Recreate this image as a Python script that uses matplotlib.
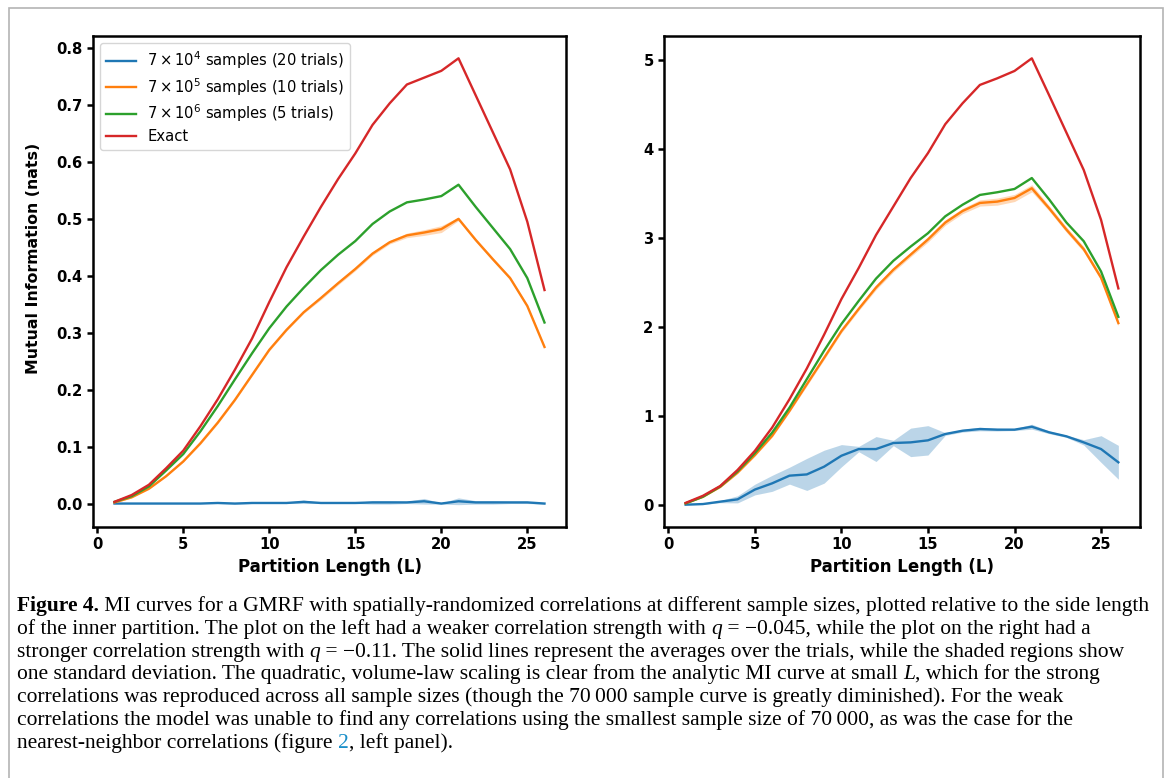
# MI curves, GMRF with spatially-randomized correlations (figure 4 with caption)

import matplotlib
matplotlib.use('Agg')
import matplotlib.pyplot as plt
import numpy as np

# partition lengths
L = np.arange(1, 27)

# left panel: weak correlations (q = -0.045)
exact_l = [0.003, 0.015, 0.033, 0.062, 0.093, 0.136, 0.183, 0.235, 0.290, 0.354, 0.415, 0.469, 0.521,
           0.570, 0.615, 0.665, 0.703, 0.736, 0.748, 0.760, 0.782, 0.717, 0.652, 0.587, 0.495, 0.375]
s7e6_l = [0.003, 0.013, 0.030, 0.058, 0.087, 0.127, 0.171, 0.218, 0.264, 0.308, 0.346, 0.379, 0.410,
          0.437, 0.461, 0.491, 0.513, 0.529, 0.534, 0.540, 0.560, 0.521, 0.484, 0.447, 0.396, 0.318]
s7e5_l = [0.002, 0.011, 0.026, 0.048, 0.074, 0.106, 0.142, 0.182, 0.226, 0.270, 0.305, 0.336, 0.361,
          0.387, 0.412, 0.439, 0.459, 0.471, 0.476, 0.482, 0.500, 0.463, 0.429, 0.396, 0.347, 0.275]
s7e5_l_std = [0.001, 0.001, 0.001, 0.001, 0.001, 0.002, 0.002, 0.002, 0.002, 0.002, 0.002, 0.002, 0.003,
              0.003, 0.003, 0.003, 0.003, 0.004, 0.005, 0.006, 0.003, 0.003, 0.003, 0.003, 0.003, 0.002]
s7e4_l = [0.000, 0.000, 0.000, 0.000, 0.000, 0.000, 0.001, 0.000, 0.001, 0.001, 0.001, 0.003, 0.001,
          0.001, 0.001, 0.002, 0.002, 0.002, 0.004, 0.000, 0.004, 0.002, 0.002, 0.002, 0.002, 0.000]
s7e4_l_std = [0.000, 0.000, 0.000, 0.000, 0.000, 0.000, 0.001, 0.001, 0.001, 0.001, 0.001, 0.003, 0.001,
              0.001, 0.001, 0.003, 0.003, 0.002, 0.005, 0.001, 0.006, 0.003, 0.003, 0.002, 0.002, 0.001]

# right panel: strong correlations (q = -0.11)
exact_r = [0.02, 0.10, 0.21, 0.39, 0.605, 0.867, 1.185, 1.53, 1.91, 2.31, 2.66, 3.03, 3.35,
           3.67, 3.95, 4.275, 4.51, 4.716, 4.79, 4.873, 5.015, 4.60, 4.18, 3.76, 3.20, 2.43]
s7e6_r = [0.015, 0.09, 0.205, 0.375, 0.58, 0.81, 1.09, 1.41, 1.73, 2.03, 2.29, 2.54, 2.74,
          2.90, 3.05, 3.24, 3.37, 3.48, 3.51, 3.547, 3.67, 3.43, 3.17, 2.96, 2.62, 2.11]
s7e5_r = [0.015, 0.088, 0.20, 0.36, 0.557, 0.774, 1.054, 1.353, 1.65, 1.95, 2.20, 2.44, 2.64,
          2.81, 2.98, 3.17, 3.30, 3.39, 3.405, 3.446, 3.555, 3.33, 3.09, 2.87, 2.55, 2.04]
s7e5_r_std = [0.002, 0.005, 0.008, 0.01, 0.012, 0.015, 0.015, 0.02, 0.02, 0.02, 0.02, 0.025, 0.025,
              0.025, 0.03, 0.03, 0.03, 0.035, 0.04, 0.04, 0.04, 0.03, 0.03, 0.03, 0.03, 0.03]
s7e4_r = [0.0, 0.007, 0.034, 0.06, 0.17, 0.24, 0.326, 0.34, 0.427, 0.55, 0.625, 0.625, 0.693,
          0.70, 0.723, 0.794, 0.831, 0.85, 0.843, 0.843, 0.876, 0.813, 0.768, 0.70, 0.625, 0.476]
s7e4_r_std = [0.0, 0.005, 0.012, 0.04, 0.06, 0.09, 0.095, 0.18, 0.185, 0.125, 0.03, 0.14, 0.03,
              0.16, 0.165, 0.015, 0.015, 0.02, 0.015, 0.01, 0.028, 0.015, 0.012, 0.03, 0.15, 0.19]

labels = [r'$7 \times 10^4$ samples (20 trials)', r'$7 \times 10^5$ samples (10 trials)',
          r'$7 \times 10^6$ samples (5 trials)', 'Exact']

# caption, one list of (text, style) pieces per printed line
caption = [
    [('Figure 4.', 'bold'), (' MI curves for a GMRF with spatially-randomized correlations at different sample sizes, '
                             'plotted relative to the side length', '')],
    [('of the inner partition. The plot on the left had a weaker correlation strength with ', ''), ('q', 'italic'),
     (' = \u22120.045, while the plot on the right had a', '')],
    [('stronger correlation strength with ', ''), ('q', 'italic'),
     (' = \u22120.11. The solid lines represent the averages over the trials, while the shaded regions show', '')],
    [('one standard deviation. The quadratic, volume-law scaling is clear from the analytic MI curve at small ', ''),
     ('L', 'italic'), (', which for the strong', '')],
    [('correlations was reproduced across all sample sizes (though the 70\u2009000 sample curve is greatly '
      'diminished). For the weak', '')],
    [('correlations the model was unable to find any correlations using the smallest sample size of 70\u2009000, '
      'as was the case for the', '')],
    [('nearest-neighbor correlations (figure ', ''), ('2', 'link'), (', left panel).', '')],
]

W, H = 1166, 778
fig = plt.figure(figsize=(W / 100, H / 100), dpi=100)

def px(x0, y0, x1, y1):
    # pixel box -> figure fraction rect
    return [x0 / W, 1 - y1 / H, (x1 - x0) / W, (y1 - y0) / H]

ax1 = fig.add_axes(px(93, 36, 566, 527))
ax2 = fig.add_axes(px(664, 36, 1140, 527))

def panel(ax, s4, s4std, s5, s5std, s6, ex):
    s4, s4std = np.array(s4), np.array(s4std)
    s5, s5std = np.array(s5), np.array(s5std)
    ax.plot(L, s4, color='tab:blue', lw=1.7, label=labels[0])
    ax.fill_between(L, s4 - s4std, s4 + s4std, color='tab:blue', alpha=0.3, lw=0)
    ax.plot(L, s5, color='tab:orange', lw=1.7, label=labels[1])
    ax.fill_between(L, s5 - s5std, s5 + s5std, color='tab:orange', alpha=0.3, lw=0)
    ax.plot(L, s6, color='tab:green', lw=1.7, label=labels[2])
    ax.plot(L, ex, color='tab:red', lw=1.7, label=labels[3])
    for sp in ax.spines.values():
        sp.set_linewidth(1.8)
    ax.tick_params(width=1.8, length=4, labelsize=10.6)
    ax.set_xlabel('Partition Length (L)', fontsize=12, fontweight='bold')
    ax.set_xticks([0, 5, 10, 15, 20, 25])

panel(ax1, s7e4_l, s7e4_l_std, s7e5_l, s7e5_l_std, s7e6_l, exact_l)
panel(ax2, s7e4_r, s7e4_r_std, s7e5_r, s7e5_r_std, s7e6_r, exact_r)

ax1.set_yticks(np.arange(0, 0.81, 0.1))
ax1.yaxis.set_major_formatter(plt.FormatStrFormatter('%.1f'))
ax1.set_ylabel('Mutual Information (nats)', fontsize=11.3, fontweight='bold')
ax1.yaxis.set_label_coords(-0.11, 0.548)
ax1.legend(loc='upper left', fontsize=10.6, labelspacing=0.33)
ax2.set_yticks([0, 1, 2, 3, 4, 5])

for ax in (ax1, ax2):
    for t in ax.get_xticklabels() + ax.get_yticklabels():
        t.set_fontweight('bold')

# page frame
fig.add_artist(plt.Rectangle((9 / W, -0.05), (1163 - 9) / W, 1.05 - 8 / H, transform=fig.transFigure,
                             fill=False, edgecolor='#b4b4b4', lw=1.2))

# caption text
cap_x = 17
cap_y0 = 611
cap_dy = 22.8
cap_fs = 15.45
styles = {
    '': {},
    'bold': {'fontweight': 'bold'},
    'italic': {'fontstyle': 'italic'},
    'link': {'color': '#1a8fc9'},
}
renderer = fig.canvas.get_renderer()

for i, pieces in enumerate(caption):
    x = cap_x
    y = cap_y0 + i * cap_dy
    for s, st in pieces:
        t = fig.text(x / W, 1 - y / H, s, family='Liberation Serif', fontsize=cap_fs,
                     va='baseline', **styles[st])
        x = t.get_window_extent(renderer).x1

fig.savefig('out.png', dpi=100)
